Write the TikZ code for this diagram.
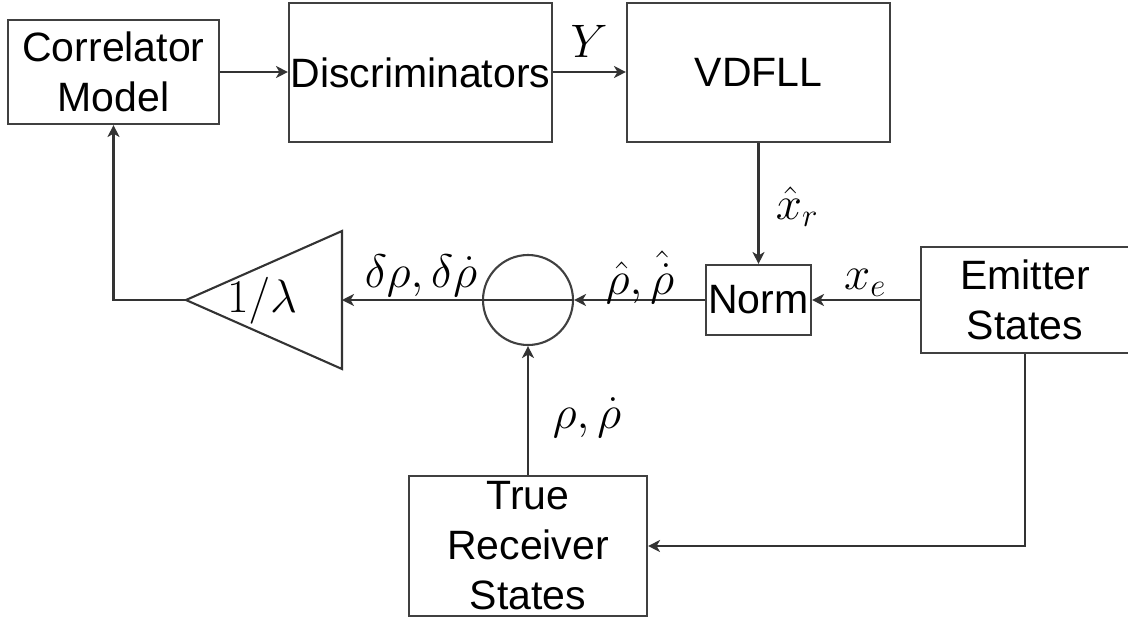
\RequirePackage{fix-cm}
\documentclass[tikz,border=0pt]{standalone}
\usepackage{fontspec}
\setmainfont{Liberation Sans}
\usetikzlibrary{arrows.meta}
\tikzset{
  box/.style={draw=black!75, line width=2.1pt, rectangle, inner sep=0pt, align=center,
    font=\fontsize{41}{50}\selectfont},
  arr/.style={draw=black!80, line width=2.1pt, -{Stealth[length=12pt,width=12pt,inset=3.5pt]}},
  ln/.style={draw=black!80, line width=2.1pt},
  mlbl/.style={inner sep=0pt, font=\fontsize{47}{56}\selectfont},
}
\begin{document}
\begin{tikzpicture}[x=1pt,y=-1pt]
\useasboundingbox (0,0) rectangle (1128,619);
% blocks
\node[box, minimum width=211pt, minimum height=104pt] (corr) at (113.5,72) {Correlator\\Model};
\node[box, minimum width=263pt, minimum height=139pt] (disc) at (420.5,72.5) {Discriminators};
\node[box, minimum width=263pt, minimum height=139pt] (vdfll) at (758.5,72.5) {VDFLL};
\node[box, minimum width=105pt, minimum height=70pt] (norm) at (758.5,300) {Norm};
\node[box, minimum width=208pt, minimum height=106pt] (emit) at (1025,300) {Emitter\\States};
\node[box, minimum width=238pt, minimum height=140pt] (recv) at (528,546) {True\\Receiver\\States};
% summing circle
\node[circle, draw=black!75, line width=2.1pt, minimum size=90pt, inner sep=0pt] (sum) at (528,300) {};
\draw[ln] (sum.west) -- (sum.east);
% gain triangle
\coordinate (tritip) at (186,300);
\coordinate (triback) at (342,300);
\coordinate (tritop) at (342,231);
\coordinate (tribot) at (342,369);
\draw[ln, line join=miter] (tritip) -- (tritop) -- (tribot) -- cycle;
\node[mlbl, anchor=base] (gain) at (262,312) {$1/\lambda$};
% connectors
\draw[arr] (corr.east) -- (corr.east -| disc.west);
\draw[arr] (disc.east |- 0,72) -- (vdfll.west |- 0,72);
\draw[arr] (vdfll.south) -- (norm.north);
\draw[arr] (emit.west) -- (norm.east);
\draw[arr] (norm.west) -- (sum.east);
\draw[arr] (sum.west) -- (triback);
\draw[arr] (tritip) -| (corr.south);
\draw[arr] (recv.north) -- (sum.south);
\draw[arr] (emit.south) |- (recv.east);
% labels
\node[mlbl, anchor=base] (ylbl) at (589,57) {$Y$};
\node[mlbl, anchor=base] (xrlbl) at (797,219) {$\hat{x}_r$};
\node[mlbl, anchor=base] (xelbl) at (865,289) {$x_e$};
\node[mlbl, anchor=base] (rhohat) at (640,294) {$\hat{\rho},\hat{\dot{\rho}}$};
\node[mlbl, anchor=base] (drho) at (421,287) {$\delta\rho,\delta\dot{\rho}$};
\node[mlbl, anchor=base] (rho) at (587,428) {$\rho,\dot{\rho}$};
\end{tikzpicture}
\end{document}
